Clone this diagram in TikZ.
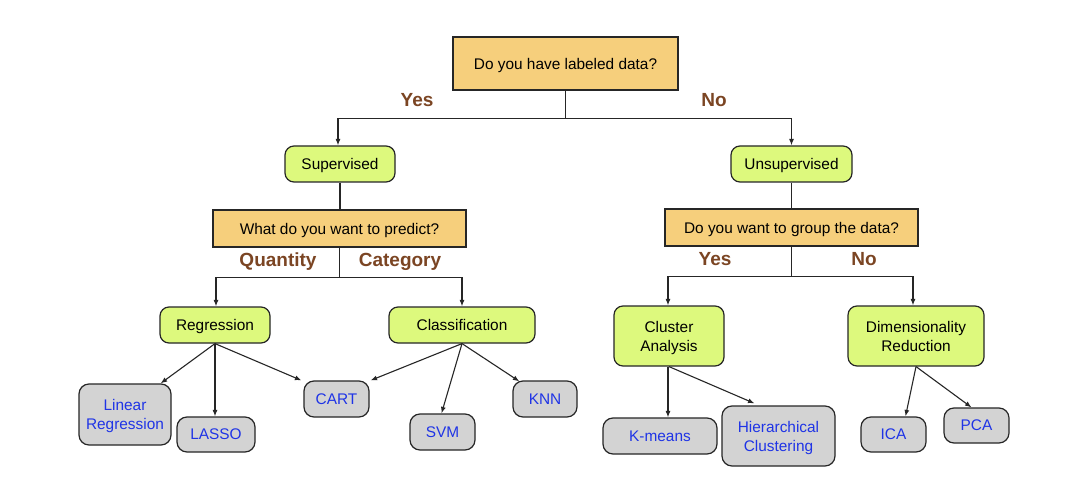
\documentclass[tikz,border=0pt]{standalone}
\usepackage{fontspec}
\setmainfont{Liberation Sans}
\usetikzlibrary{arrows.meta,calc}
\definecolor{qfill}{HTML}{F6CF7C}
\definecolor{gfill}{HTML}{DDF97D}
\definecolor{grfill}{HTML}{D3D3D3}
\definecolor{bluetxt}{HTML}{1F34E6}
\definecolor{browntxt}{HTML}{7B4523}
\tikzset{
  base/.style={draw=black!85, line width=1.2pt, inner sep=0pt, align=center,
    text depth=0pt, font=\fontsize{15.4}{19}\selectfont},
  qbox/.style={base, fill=qfill},
  gbox/.style={base, fill=gfill, rounded corners=9pt},
  leaf/.style={base, fill=grfill, rounded corners=10pt, text=bluetxt},
  lab/.style={text=browntxt, text depth=0pt, inner sep=0pt, font=\fontsize{19}{22}\selectfont\bfseries},
  link/.style={draw=black!85, line width=1.1pt},
  arr/.style={link, -{Latex[length=6.5pt,width=5pt]}},
}
\begin{document}
\begin{tikzpicture}[x=1pt,y=-1pt]
\useasboundingbox (0,0) rectangle (1073,481);
\fill[white] (0,0) rectangle (1073,481);
% questions
\node[qbox, minimum width=225pt, minimum height=53pt] (q1) at (565.5,63.5) {Do you have labeled data?};
\node[qbox, minimum width=253pt, minimum height=37pt] (q2) at (339.5,228.5) {What do you want to predict?};
\node[qbox, minimum width=253pt, minimum height=37pt] (q3) at (791.5,227.5) {Do you want to group the data?};
% green boxes
\node[gbox, minimum width=110pt, minimum height=36pt] (sup) at (340,164) {Supervised};
\node[gbox, minimum width=121pt, minimum height=36pt] (unsup) at (791.5,164) {Unsupervised};
\node[gbox, minimum width=110pt, minimum height=36pt] (reg) at (215,325) {Regression};
\node[gbox, minimum width=146pt, minimum height=36pt] (cls) at (462,325) {Classification};
\node[gbox, minimum width=110pt, minimum height=60pt] (ca) at (669,336) {Cluster\\Analysis};
\node[gbox, minimum width=136pt, minimum height=60pt] (dr) at (916,336) {Dimensionality\\Reduction};
% leaves
\node[leaf, minimum width=92pt, minimum height=61pt] (lr) at (125,414.5) {Linear\\Regression};
\node[leaf, minimum width=78pt, minimum height=35pt] (lasso) at (216,434.5) {LASSO};
\node[leaf, minimum width=65pt, minimum height=36pt] (cart) at (336.5,399) {CART};
\node[leaf, minimum width=65pt, minimum height=36pt] (svm) at (442.5,432) {SVM};
\node[leaf, minimum width=64pt, minimum height=36pt] (knn) at (545,399) {KNN};
\node[leaf, minimum width=114pt, minimum height=36pt] (km) at (660,436) {K-means};
\node[leaf, minimum width=113pt, minimum height=60pt] (hc) at (778.5,436) {Hierarchical\\Clustering};
\node[leaf, minimum width=65pt, minimum height=35pt] (ica) at (893.5,434.5) {ICA};
\node[leaf, minimum width=65pt, minimum height=35pt] (pca) at (976.5,425.5) {PCA};
% labels
\node[lab] (yes1) at (417,100) {Yes};
\node[lab] (no1) at (714,100) {No};
\node[lab] (quant) at (278,260) {Quantity};
\node[lab] (categ) at (400,260) {Category};
\node[lab] (yes2) at (715,259) {Yes};
\node[lab] (no2) at (864,259) {No};
% elbow connectors
\coordinate (j1) at ($(q1.south)+(0,28)$);
\draw[arr] (q1.south) -- (j1) -| ([xshift=-2pt]sup.north);
\draw[arr] (j1) -| (unsup.north);
\draw[link] (sup.south) -- (sup.south |- q2.north);
\draw[link] (unsup.south) -- (q3.north);
\coordinate (j2) at ($(q2.south)+(0,29.5)$);
\draw[arr] (q2.south) -- (j2) -| ([xshift=1pt]reg.north);
\draw[arr] (j2) -| (cls.north);
\coordinate (j3) at ($(q3.south)+(0,30)$);
\draw[arr] (q3.south) -- (j3) -| ([xshift=-1pt]ca.north);
\draw[arr] (j3) -| ([xshift=-3pt]dr.north);
% diagonal connectors
\draw[arr] (reg.south) -- ([xshift=-11pt]lr.north east);
\draw[arr] (reg.south) -- (reg.south |- lasso.north);
\draw[arr] (reg.south) -- ([xshift=-2pt]cart.north west);
\draw[arr] (cls.south) -- ([xshift=1pt]cart.north east);
\draw[arr] (cls.south) -- ([xshift=-1pt]svm.north);
\draw[arr] (cls.south) -- ([xshift=7pt,yshift=-1pt]knn.north west);
\draw[arr] ([xshift=-1pt]ca.south) -- ([xshift=-1pt]ca.south |- km.north);
\draw[arr] (ca.south) -- ([xshift=-24pt,yshift=2pt]hc.north);
\draw[arr] (dr.south) -- ([xshift=12pt]ica.north);
\draw[arr] (dr.south) -- ([xshift=-5pt]pca.north);
\end{tikzpicture}
\end{document}
